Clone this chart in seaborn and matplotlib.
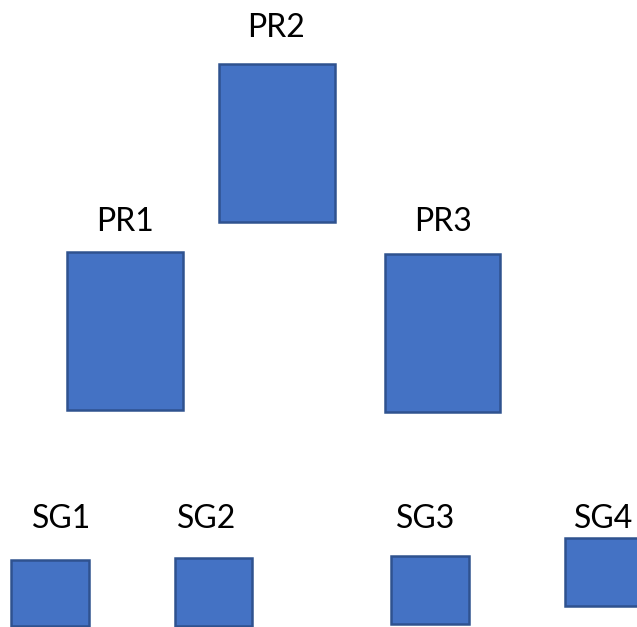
import numpy as np
import pandas as pd
import matplotlib
matplotlib.use("Agg")
import matplotlib.pyplot as plt
import seaborn as sns

# Boxes of the diagram (pixel space of the picture, y grows downward)
names = ["PR1", "PR2", "PR3", "SG1", "SG2", "SG3", "SG4"]
left = [67, 219, 385, 11, 175, 391, 565]
right = [183, 335, 500, 89, 252, 469, 640]
top = [252, 64, 254, 560, 558, 556, 538]
bottom = [410, 222, 412, 626, 626, 624, 606]
label_x = [125, 276, 443, 62, 207, 426, 604]
label_y = [222, 28, 222, 519, 519, 519, 519]

df = pd.DataFrame({"name": names, "left": left, "right": right,
                   "top": top, "bottom": bottom,
                   "lx": label_x, "ly": label_y})
df["width"] = df["right"] - df["left"]
df["height"] = df["bottom"] - df["top"]

sns.set_theme(style="white")
plt.rcParams['font.family'] = ['Lato', 'DejaVu Sans']

fig = plt.figure(figsize=(6.37, 6.27), dpi=100)
ax = fig.add_axes([0, 0, 1, 1])

ax.bar(df["left"], df["height"], width=df["width"], bottom=df["top"],
       align="edge", color="#4472C4", edgecolor="#2F528F", linewidth=1.8)

for _, r in df.iterrows():
    ax.text(r["lx"], r["ly"], r["name"], ha="center", va="center",
            fontsize=23, color="black")

ax.set_xlim(0, 637)
ax.set_ylim(627, 0)
ax.axis("off")

plt.savefig("out.png", dpi=100)
